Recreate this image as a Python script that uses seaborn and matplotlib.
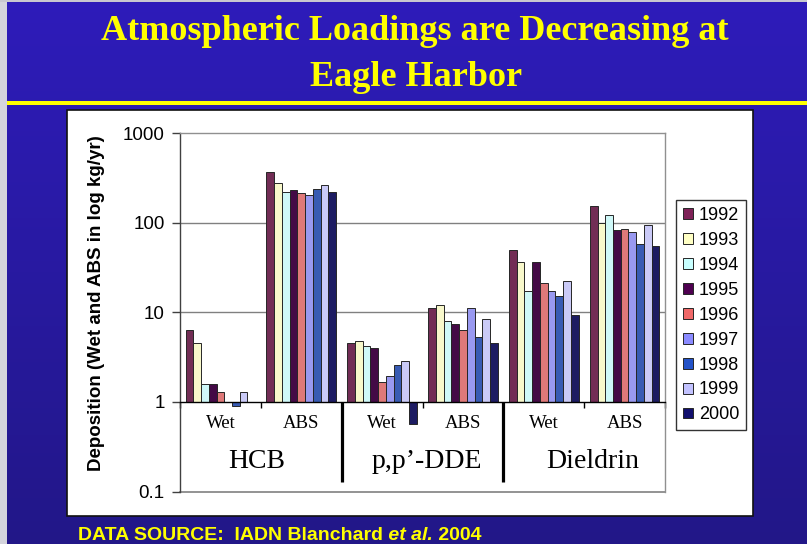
import numpy as np
import pandas as pd
import matplotlib
matplotlib.use("Agg")
import matplotlib.pyplot as plt
from matplotlib.patches import Rectangle, Patch
from matplotlib.ticker import NullLocator, FixedLocator, FixedFormatter
import seaborn as sns

# ---- data -------------------------------------------------------------
years = ["1992", "1993", "1994", "1995", "1996", "1997", "1998", "1999", "2000"]
compounds = ["HCB", "p,p\u2019-DDE", "Dieldrin"]
phases = ["Wet", "ABS"]

hcb_wet = [6.3, 4.5, 1.6, 1.6, 1.28, np.nan, 0.9, 1.28, np.nan]
hcb_abs = [364, 274, 221, 233, 212, 205, 239, 261, 221]
dde_wet = [4.5, 4.8, 4.15, 3.95, 1.68, 1.94, 2.57, 2.85, 0.57]
dde_abs = [11.2, 12.1, 7.9, 7.3, 6.4, 11.2, 5.35, 8.4, 4.5]
dieldrin_wet = [49, 36.5, 17.4, 36.5, 21.3, 17.4, 15.1, 22.6, 9.4]
dieldrin_abs = [155, 100, 122, 83, 85, 79, 57.5, 93, 54.6]

y_ticks = [0.1, 1, 10, 100, 1000]
y_tick_labels = ["0.1", "1", "10", "100", "1000"]

year_colors = ["#7E2157", "#FFFFC4", "#C8FFFF", "#4E0050", "#F06868",
               "#8A8AFF", "#2352C8", "#C2C2FF", "#12106E"]

series = [hcb_wet, hcb_abs, dde_wet, dde_abs, dieldrin_wet, dieldrin_abs]
categories = [f"{c} {p}" for c in compounds for p in phases]

rows = []
for cat, vals in zip(categories, series):
    for yr, v in zip(years, vals):
        rows.append({"category": cat, "year": yr, "value": v})
df = pd.DataFrame(rows)
# bars rise (or fall) from the category axis, which crosses at 1
df["rise"] = df["value"] - 1.0

# ---- figure -----------------------------------------------------------
W, H = 807, 544
fig = plt.figure(figsize=(W / 100, H / 100), dpi=100)

# slide background: blue gradient
bg = fig.add_axes([0, 0, 1, 1], zorder=-5)
grad = np.linspace(0, 1, 256).reshape(-1, 1)
top_c = np.array([0x2E, 0x1C, 0xBA]) / 255
bot_c = np.array([0x22, 0x17, 0x88]) / 255
img = top_c[None, None, :] * (1 - grad[..., None]) + bot_c[None, None, :] * grad[..., None]
bg.imshow(img, aspect="auto", extent=[0, 1, 0, 1])
bg.set_xlim(0, 1)
bg.set_ylim(0, 1)
bg.axis("off")

def fx(px):
    return px / W

def fy(py):
    return 1 - py / H

# slide frame edges
fig.add_artist(Rectangle((0, 0), fx(7), 1, transform=fig.transFigure,
                         facecolor="#D4D4DC", edgecolor="none", zorder=-4))
fig.add_artist(Rectangle((0, fy(2)), 1, fy(0) - fy(2), transform=fig.transFigure,
                         facecolor="#C8C8D0", edgecolor="none", zorder=-4))

# yellow rule under the title
fig.add_artist(Rectangle((fx(7), fy(105)), 1, fy(101) - fy(105), transform=fig.transFigure,
                         facecolor="#FFFF00", edgecolor="none", zorder=-3))

# white chart panel
fig.add_artist(Rectangle((fx(67), fy(516)), fx(753) - fx(67), fy(110) - fy(516),
                         transform=fig.transFigure, facecolor="white",
                         edgecolor="#111111", linewidth=1.2, zorder=-2))

# title
title_font = dict(family="Liberation Serif", weight="bold", color="#FFFF00", size=26)
fig.text(fx(415), fy(32), "Atmospheric Loadings are Decreasing at",
         ha="center", va="center", **title_font)
fig.text(fx(416), fy(77), "Eagle Harbor", ha="center", va="center", **title_font)

# footer
foot = dict(color="#FFFF00", size=14, weight="bold", family="Liberation Sans")
t1 = fig.text(fx(78), fy(540), "DATA SOURCE:  IADN Blanchard", ha="left",
              va="baseline", **foot)
a1 = plt.annotate(" et al.", xy=(1, 0), xycoords=t1, ha="left", va="bottom",
                  style="italic", annotation_clip=False, **foot)
a2 = plt.annotate(" 2004", xy=(1, 0), xycoords=a1, ha="left", va="bottom",
                  annotation_clip=False, **foot)

# ---- chart ------------------------------------------------------------
ax = fig.add_axes([fx(180), fy(491.5), fx(665) - fx(180), fy(133) - fy(491.5)])
ax.set_facecolor("none")

sns.barplot(data=df, x="category", y="rise", hue="year", order=categories,
            hue_order=years, palette=year_colors, width=0.86, bottom=1,
            errorbar=None, edgecolor="#262626", linewidth=0.7, legend=False,
            ax=ax, zorder=3)

ax.set_yscale("log")
ax.set_ylim(0.1, 1000)
ax.set_xlim(-0.5, len(categories) - 0.5)

ax.yaxis.set_major_locator(FixedLocator(y_ticks))
ax.yaxis.set_major_formatter(FixedFormatter(y_tick_labels))
ax.yaxis.set_minor_locator(NullLocator())
ax.tick_params(axis="y", direction="out", length=6, width=1, color="#404040",
               pad=5, labelsize=13.5)
for lab in ax.get_yticklabels():
    lab.set_family("Liberation Sans")

ax.set_xticks(np.arange(-0.5, len(categories), 1.0))
ax.set_xticklabels([])
ax.xaxis.set_minor_locator(NullLocator())
ax.tick_params(axis="x", direction="out", length=4, width=1, color="black")

ax.set_xlabel("")
ax.set_ylabel("")

# gridlines and plot-area border
for gv in [10, 100]:
    ax.axhline(gv, color="#808080", lw=1, zorder=1)
ax.axhline(0.1, color="#808080", lw=1.2, zorder=1, clip_on=False)
ax.spines["top"].set_color("#909090")
ax.spines["right"].set_color("#909090")
ax.spines["left"].set_color("#404040")
ax.spines["bottom"].set_position(("data", 1))
ax.spines["bottom"].set_color("black")
for s in ax.spines.values():
    s.set_linewidth(1)
ax.spines["bottom"].set_zorder(4)

# category labels under the axis
for i, cat in enumerate(categories):
    ax.text(i, 0.57, cat.split(" ")[-1], ha="center", va="center",
            family="Liberation Serif", size=13.5, color="black")
group_nudge = [-0.05, 0.06, 0.11]
for g, name in enumerate(compounds):
    ax.text(2 * g + 0.5 + group_nudge[g], 0.214, name, ha="center", va="center",
            family="Liberation Serif", size=20, color="black")
for xs in [1.5, 3.5]:
    ax.plot([xs, xs], [1, 0.129], color="black", lw=2.3,
            solid_capstyle="butt", zorder=4)

# y-axis title
fig.text(fx(97), fy(303), "Deposition (Wet and ABS in log kg/yr)", rotation=90,
         ha="center", va="center", family="Liberation Sans", weight="bold",
         size=13.5, color="black")

# legend
handles = [Patch(facecolor=c, edgecolor="#262626", linewidth=0.7, label=y)
           for c, y in zip(year_colors, years)]
leg = ax.legend(handles=handles, loc="upper left",
                bbox_to_anchor=(fx(676), fy(200)), bbox_transform=fig.transFigure,
                borderaxespad=0, frameon=True, fancybox=False, framealpha=1,
                edgecolor="#333333", prop=dict(family="Liberation Sans", size=13),
                handlelength=0.55, handleheight=0.55, handletextpad=0.35,
                labelspacing=0.44, borderpad=0.38)
leg.get_frame().set_linewidth(1)

fig.savefig("out.png", dpi=100)
